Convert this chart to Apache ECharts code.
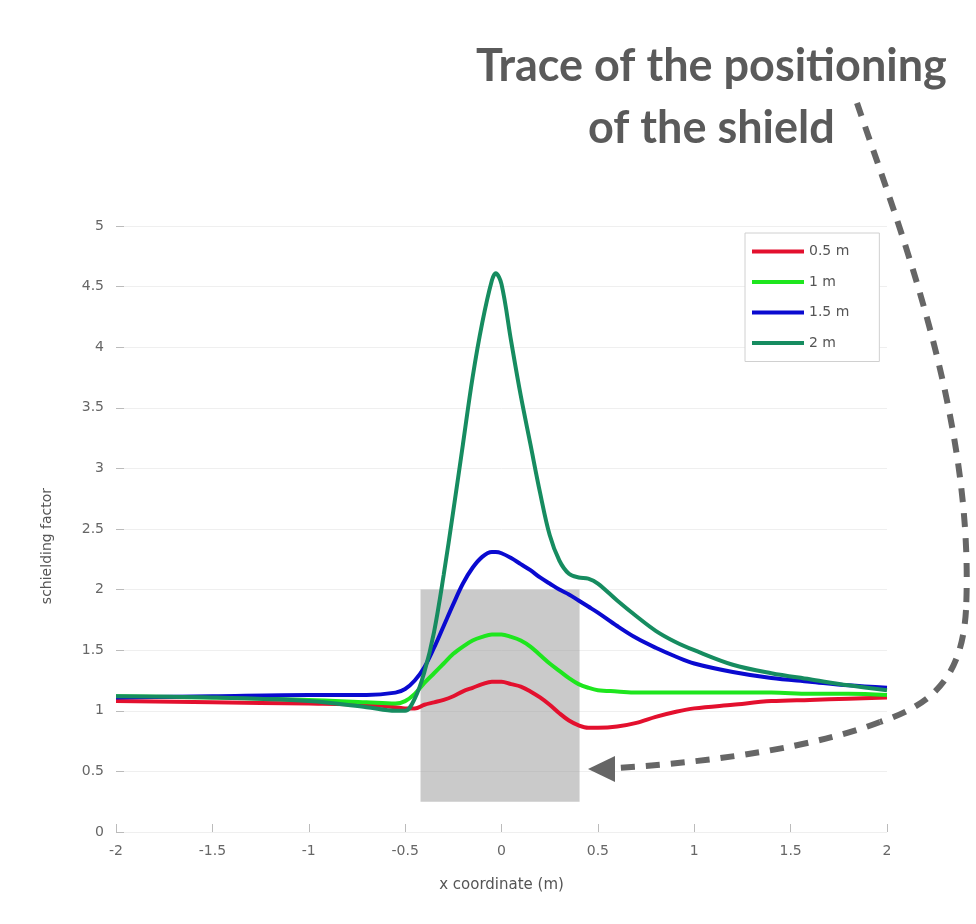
<!DOCTYPE html>
<html>
<head>
<meta charset="utf-8">
<script src="https://cdn.jsdelivr.net/npm/echarts@6/dist/echarts.min.js"></script>
<style>
html,body{margin:0;padding:0;background:#fff;}
#chart{width:976px;height:924px;}
</style>
</head>
<body>
<div id="chart"></div>
<script>
// x positions (m)
var xValues = [-2, -1.5, -1, -0.7, -0.55, -0.5, -0.45, -0.4, -0.35, -0.3, -0.25, -0.2, -0.15, -0.1, -0.05, -0.03, 0, 0.05, 0.1, 0.15, 0.2, 0.25, 0.3, 0.35, 0.4, 0.45, 0.5, 0.6, 0.7, 0.8, 0.9, 1.0, 1.2, 1.4, 1.6, 1.8, 2.0];

var seriesNames = ['0.5 m', '1 m', '1.5 m', '2 m'];

var y05 = [1.08, 1.07, 1.06, 1.05, 1.03, 1.02, 1.02, 1.05, 1.07, 1.09, 1.12, 1.16, 1.19, 1.22, 1.24, 1.24, 1.24, 1.22, 1.20, 1.16, 1.11, 1.05, 0.98, 0.92, 0.88, 0.86, 0.86, 0.87, 0.90, 0.95, 0.99, 1.02, 1.05, 1.08, 1.09, 1.10, 1.11];
var y10 = [1.12, 1.11, 1.09, 1.07, 1.06, 1.08, 1.14, 1.23, 1.31, 1.39, 1.47, 1.53, 1.58, 1.61, 1.63, 1.63, 1.63, 1.61, 1.58, 1.53, 1.46, 1.39, 1.33, 1.27, 1.22, 1.19, 1.17, 1.16, 1.15, 1.15, 1.15, 1.15, 1.15, 1.15, 1.14, 1.14, 1.13];
var y15 = [1.11, 1.12, 1.13, 1.13, 1.15, 1.18, 1.25, 1.36, 1.52, 1.70, 1.88, 2.05, 2.18, 2.27, 2.31, 2.31, 2.30, 2.26, 2.21, 2.16, 2.10, 2.05, 2.00, 1.96, 1.91, 1.86, 1.81, 1.70, 1.60, 1.52, 1.45, 1.39, 1.32, 1.27, 1.24, 1.21, 1.19];
var y20 = [1.12, 1.11, 1.08, 1.03, 1.00, 1.00, 1.10, 1.32, 1.65, 2.12, 2.65, 3.20, 3.75, 4.20, 4.55, 4.61, 4.52, 4.05, 3.60, 3.20, 2.80, 2.45, 2.24, 2.13, 2.10, 2.09, 2.05, 1.91, 1.78, 1.66, 1.57, 1.50, 1.38, 1.31, 1.26, 1.21, 1.17];

// shield footprint (x range, y range)
var shieldX = [-0.42, 0.405];
var shieldY = [0.25, 2.0];

var colors = ['#e3102e', '#1ee61e', '#0a0ad0', '#168c60'];

function pairs(ys) {
  return xValues.map(function (x, i) { return [x, ys[i]]; });
}
var allY = [y05, y10, y15, y20];

var series = seriesNames.map(function (n, i) {
  return {
    name: n,
    type: 'line',
    data: pairs(allY[i]),
    smooth: 0.35,
    showSymbol: false,
    symbol: 'none',
    lineStyle: { width: 4, color: colors[i] },
    itemStyle: { color: colors[i] },
    z: 2
  };
});
series.push({
  name: 'shield',
  type: 'line',
  data: [],
  z: 5,
  markArea: {
    silent: true,
    itemStyle: { color: 'rgba(150,150,150,0.5)' },
    data: [[{ xAxis: shieldX[0], yAxis: shieldY[0] }, { xAxis: shieldX[1], yAxis: shieldY[1] }]]
  }
});

var dashStyle = { fill: 'none', stroke: '#666', lineWidth: 6, lineDash: [14, 11] };

var chart = echarts.init(document.getElementById('chart'), null, { renderer: 'canvas' });
var labelFont = 'DejaVu Sans';
chart.setOption({
  backgroundColor: '#fff',
  animation: false,
  grid: { left: 116, right: 89, top: 226, bottom: 92 },
  legend: {
    data: seriesNames,
    orient: 'vertical',
    left: 745,
    top: 233,
    padding: [11, 30, 11, 7],
    itemWidth: 52,
    itemHeight: 4,
    itemGap: 15.5,
    icon: 'rect',
    backgroundColor: '#fff',
    borderColor: '#d0d0d0',
    borderWidth: 1,
    textStyle: { color: '#555', fontSize: 14, fontFamily: labelFont, lineHeight: 15 }
  },
  xAxis: {
    type: 'value',
    min: -2, max: 2, interval: 0.5,
    name: 'x coordinate (m)',
    nameLocation: 'middle',
    nameGap: 46,
    nameTextStyle: { color: '#555', fontSize: 15, fontFamily: labelFont },
    axisLine: { show: false, onZero: false },
    axisTick: { show: true, inside: true, length: 8, lineStyle: { color: '#bbb' } },
    axisLabel: { color: '#666', fontSize: 14, fontFamily: labelFont, margin: 12,
      formatter: function (v) { return String(v); } },
    splitLine: { show: false }
  },
  yAxis: {
    type: 'value',
    min: 0, max: 5, interval: 0.5,
    name: 'schielding factor',
    nameLocation: 'middle',
    nameGap: 62,
    nameTextStyle: { color: '#555', fontSize: 14, fontFamily: labelFont, padding: [0, 34, 0, 0] },
    axisLine: { show: false, onZero: false },
    axisTick: { show: true, inside: true, length: 8, lineStyle: { color: '#bbb' } },
    axisLabel: { color: '#666', fontSize: 14, fontFamily: labelFont, margin: 12 },
    splitLine: { show: true, lineStyle: { color: '#efefef', width: 1 } }
  },
  series: series,
  graphic: [
    {
      type: 'text', x: 476, y: 44, z: 20,
      style: { text: 'Trace of the positioning', fill: '#5a5a5a', font: 'bold 45px Lato' }
    },
    {
      type: 'text', x: 588, y: 106, z: 20,
      style: { text: 'of the shield', fill: '#5a5a5a', font: 'bold 45px Lato' }
    },
    {
      type: 'bezierCurve', z: 20,
      shape: { x1: 857, y1: 103, cpx1: 900, cpy1: 230, cpx2: 975, cpy2: 420, x2: 966, y2: 610 },
      style: dashStyle
    },
    {
      type: 'bezierCurve', z: 20,
      shape: { x1: 966, y1: 610, cpx1: 962, cpy1: 680, cpx2: 930, cpy2: 705, x2: 880, y2: 722 },
      style: dashStyle
    },
    {
      type: 'bezierCurve', z: 20,
      shape: { x1: 880, y1: 722, cpx1: 820, cpy1: 745, cpx2: 720, cpy2: 762, x2: 615, y2: 768 },
      style: dashStyle
    },
    {
      type: 'polygon', z: 20,
      shape: { points: [[588, 769], [615, 756], [615, 782]] },
      style: { fill: '#666' }
    }
  ]
});
</script>
</body>
</html>
